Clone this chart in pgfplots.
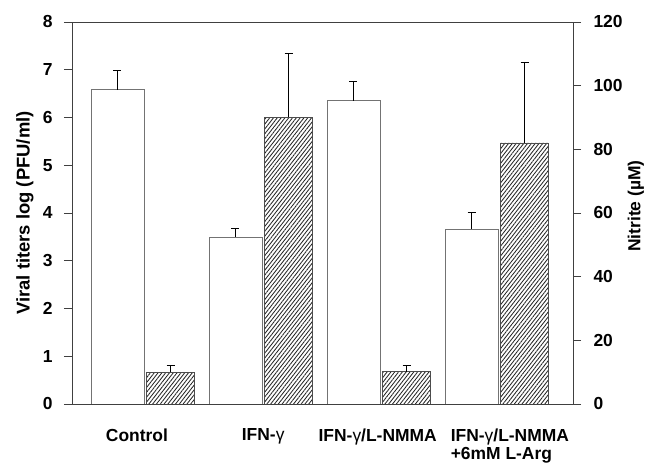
\documentclass[border=0pt]{standalone}
\usepackage{fontspec}
\setmainfont{Liberation Sans}
\usepackage{pgfplots}
\pgfplotsset{compat=1.18}
\usetikzlibrary{patterns.meta}
\begin{document}
\begin{tikzpicture}[x=1bp,y=1bp]
\useasboundingbox (-72,-59) rectangle (589,404);
\pgfplotsset{
  every axis/.append style={
    at={(0,0)}, anchor=south west, scale only axis,
    width=501bp, height=382bp,
    xmin=-0.62, xmax=3.625, ymin=0,
    tick align=outside, major tick length=8bp,
    /pgf/number format/assume math mode=true,
    tick label style={font=\bfseries\fontsize{17.5}{20}\selectfont},
    label style={font=\bfseries\fontsize{17.5}{20}\selectfont},
    axis line style={black!75, line width=0.8bp},
    tick style={black!75, line width=0.8bp},
  },
  errstyle/.style={error bars/.cd, y dir=plus, y explicit,
    error bar style={black, line width=0.6bp},
    error mark options={rotate=90, mark size=4bp, black, line width=0.6bp}},
}
\begin{axis}[
  ybar, ymax=8, ytick={0,1,...,8}, ytick pos=left,
  yticklabel style={xshift=-8bp},
  xtick={-0.07,1,1.97,3.09},
  xticklabels={Control, IFN-{\mdseries γ}, IFN-{\mdseries γ}/L-NMMA, {IFN-{\mdseries γ}/L-NMMA\\+6mM L-Arg}},
  x tick style={draw=none},
  xticklabel style={align=left, yshift=-13bp, font=\bfseries\fontsize{17.5}{18}\selectfont},
  ylabel={Viral titers log (PFU/ml)},
  ylabel style={at={(axis description cs:-0.094,0.5)}, anchor=center, font=\bfseries\fontsize{18.5}{20}\selectfont},
]
\addplot[ybar, bar width=0.45, bar shift=-0.235, fill=white, draw=black!55, line width=0.7bp, errstyle]
  coordinates {(0,6.58) +- (0,0.41) (1,3.50) +- (0,0.18) (2,6.35) +- (0,0.41) (3,3.66) +- (0,0.36)};
\end{axis}
\begin{axis}[
  ybar, ymax=120, ytick={0,20,...,120},
  axis y line*=right, axis x line=none,
  yticklabel style={xshift=9bp},
  ylabel={Nitrite (µM)},
  ylabel style={at={(axis description cs:1.1257,0.518)}, anchor=center},
]
\addplot[ybar, bar width=0.41, bar shift=0.215, pattern={Lines[angle=52, distance=3bp, line width=0.85bp]}, pattern color=black!85, draw=black!70, line width=0.7bp, errstyle]
  coordinates {(0,10.0) +- (0,2.0) (1,90.0) +- (0,20.1) (2,10.2) +- (0,1.9) (3,82.0) +- (0,25.3)};
\end{axis}
\end{tikzpicture}
\end{document}
